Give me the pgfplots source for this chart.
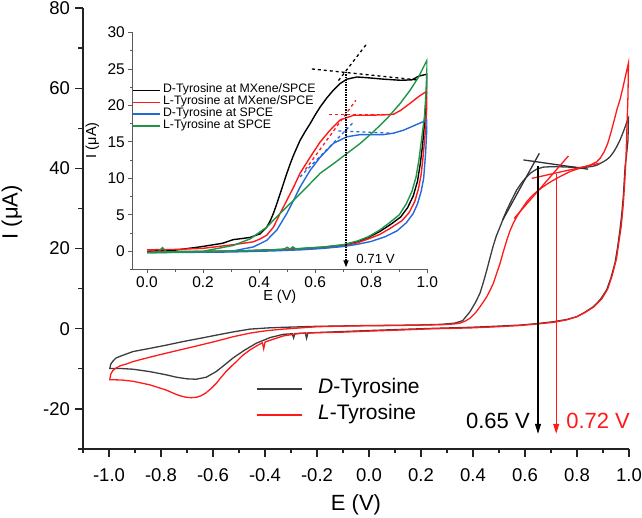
\documentclass[border=0pt]{standalone}
\usepackage{fontspec}
\setmainfont{Liberation Sans}
\usepackage{pgfplots}
\pgfplotsset{compat=1.18}
\usetikzlibrary{arrows.meta}

\definecolor{dgray}{RGB}{60,60,60}
\definecolor{lred}{RGB}{255,25,25}
\definecolor{iblue}{RGB}{35,105,220}
\definecolor{igreen}{RGB}{30,150,70}
\definecolor{axisgray}{RGB}{35,35,35}

\begin{document}
\begin{tikzpicture}[x=1pt,y=1pt]
\useasboundingbox (0,0) rectangle (642,518);

% ---------------- main cyclic voltammograms ----------------
\begin{axis}[
  at={(83pt,69pt)}, anchor=south west,
  scale only axis, width=546pt, height=441pt,
  xmin=-1.1, xmax=1.0, ymin=-30, ymax=80,
  axis x line*=bottom, axis y line*=left,
  axis line style={line width=1.4pt, color=axisgray, -},
  tick style={line width=1.2pt, color=axisgray},
  tick align=outside,
  major tick length=8pt, minor tick length=4.5pt,
  xtick={-1,-0.8,-0.6,-0.4,-0.2,0,0.2,0.4,0.6,0.8,1},
  minor xtick={-1.1,-0.9,-0.7,-0.5,-0.3,-0.1,0.1,0.3,0.5,0.7,0.9},
  ytick={-20,0,20,40,60,80},
  minor ytick={-30,-10,10,30,50,70},
  /pgf/number format/assume math mode=true,
  xticklabel style={yshift=-8pt, /pgf/number format/.cd, fixed, fixed zerofill, precision=1},
  yticklabel style={xshift=-1.5pt},
  ticklabel style={font=\fontsize{18.5}{20}\selectfont},
  xlabel={E (V)}, ylabel={I (μA)},
  label style={font=\fontsize{22}{24}\selectfont},
  xlabel style={at={(axis description cs:0.5,-0.126)}, anchor=center},
  ylabel style={at={(axis description cs:-0.13,0.537)}, anchor=center},
  legend style={at={(axis description cs:0.318,0.166)}, anchor=north west,
    draw=none, fill=none, inner sep=0pt, row sep=0pt,
    font=\fontsize{21}{24}\selectfont,
    nodes={inner sep=3pt, text height=15pt, text depth=5pt},
    /tikz/every odd column/.append style={column sep=12pt}},
  legend cell align=left,
  legend image code/.code={\draw[#1] (0pt,0pt) -- (45pt,0pt);},
]
% D-Tyrosine, one full cycle starting at 0 V
\addplot[dgray, line width=1.3pt] coordinates {
(0.00,0.8) (0.10,0.85) (0.20,0.95) (0.28,1.1) (0.33,1.4) (0.36,2.0) (0.388,4.2)
(0.41,6.6) (0.427,8.9) (0.44,11.6) (0.453,14.6) (0.465,17.6) (0.477,20.5)
(0.49,23.2) (0.504,25.4) (0.517,27.6) (0.53,29.6) (0.55,32.3) (0.568,34.6)
(0.588,36.5) (0.607,37.9) (0.625,39.0) (0.645,39.8) (0.67,40.3) (0.696,40.4)
(0.73,40.4) (0.773,40.3) (0.81,40.2) (0.837,40.3) (0.86,40.5) (0.877,40.8)
(0.90,41.6) (0.915,42.2) (0.927,42.9) (0.94,44.0) (0.952,45.3) (0.965,47.0)
(0.975,48.6) (0.985,50.3) (0.995,52.2) (0.998,52.6)
(0.996,47) (0.99,43) (0.985,40.5) (0.978,32.9) (0.972,28.5) (0.965,24.6)
(0.956,20.3) (0.946,16.4) (0.93,12.6) (0.914,9.7) (0.89,7.3) (0.863,5.5)
(0.83,4.1) (0.799,3.0) (0.76,2.3) (0.709,1.75) (0.65,1.3) (0.58,0.9)
(0.48,0.6) (0.388,0.35) (0.25,0.1) (0.131,-0.15) (0.0,-0.45) (-0.1,-0.7)
(-0.2,-0.95) (-0.235,-1.05) (-0.24,-2.4) (-0.245,-1.08) (-0.265,-1.15)
(-0.285,-1.2) (-0.29,-2.3) (-0.295,-1.25) (-0.33,-1.4) (-0.38,-2.2)
(-0.433,-3.6) (-0.48,-5.4) (-0.523,-7.3) (-0.555,-9.0) (-0.588,-10.7)
(-0.626,-12.1) (-0.665,-12.6) (-0.70,-12.5) (-0.74,-12.1) (-0.78,-11.5)
(-0.843,-10.7) (-0.908,-10.1) (-0.96,-9.9) (-0.997,-9.9)
(-0.993,-8.8) (-0.985,-8.1) (-0.973,-7.3) (-0.95,-6.7) (-0.933,-6.3)
(-0.908,-5.7) (-0.843,-4.9) (-0.78,-4.1) (-0.715,-3.2) (-0.65,-2.4)
(-0.587,-1.6) (-0.523,-0.8) (-0.458,-0.1) (-0.39,0.2) (-0.33,0.35)
(-0.2,0.6) (-0.1,0.7) (0.0,0.8)
};
\addlegendentry{\textit{D}-Tyrosine}
% L-Tyrosine, one full cycle starting at 0 V
\addplot[lred, line width=1.3pt] coordinates {
(0.0,0.75) (0.1,0.8) (0.2,0.9) (0.28,1.0) (0.33,1.2) (0.35,1.4) (0.37,1.9)
(0.388,2.6) (0.41,4.0) (0.427,5.5) (0.44,6.7) (0.453,8.0) (0.465,9.5)
(0.478,11.3) (0.49,13.6) (0.504,16.3) (0.517,19.3) (0.53,22.1) (0.542,24.4)
(0.555,26.3) (0.568,27.9) (0.581,29.2) (0.594,30.5) (0.607,31.7) (0.625,33.0)
(0.645,34.2) (0.665,35.2) (0.683,36.0) (0.70,36.7) (0.722,37.5) (0.745,38.3)
(0.773,39.2) (0.80,39.8) (0.824,40.3) (0.85,40.8) (0.875,41.6) (0.89,42.6)
(0.905,44.2) (0.918,46.2) (0.93,48.8) (0.945,52.5) (0.955,55) (0.965,57.0)
(0.975,59.7) (0.985,62.6) (0.993,64.9) (0.998,66.3)
(0.996,58) (0.992,50) (0.988,42) (0.984,37) (0.978,31) (0.97,25.5)
(0.962,22) (0.952,17.5) (0.935,13.2) (0.918,9.9) (0.895,7.4) (0.866,5.5)
(0.83,4.0) (0.8,3.0) (0.76,2.2) (0.71,1.6) (0.65,1.2) (0.58,0.8) (0.48,0.45)
(0.39,0.2) (0.25,0.0) (0.13,-0.3) (0.0,-0.6) (-0.1,-0.85) (-0.2,-1.0)
(-0.265,-1.15) (-0.33,-1.8) (-0.395,-3.2) (-0.40,-3.35) (-0.405,-5.0)
(-0.41,-3.5) (-0.43,-4.2) (-0.458,-5.3) (-0.485,-6.6) (-0.51,-8.2)
(-0.53,-9.4) (-0.55,-10.7) (-0.57,-12.2) (-0.587,-13.6) (-0.607,-14.9)
(-0.627,-16.0) (-0.645,-16.7) (-0.664,-17.1) (-0.685,-17.2) (-0.703,-17.1)
(-0.722,-16.8) (-0.741,-16.4) (-0.78,-15.3) (-0.843,-14.0) (-0.908,-13.1)
(-0.95,-12.8) (-0.997,-12.7)
(-0.993,-11.3) (-0.985,-10.4) (-0.973,-9.8) (-0.955,-9.2) (-0.933,-8.8)
(-0.908,-8.2) (-0.843,-7.1) (-0.78,-6.1) (-0.715,-5.1) (-0.65,-4.1)
(-0.587,-3.1) (-0.523,-2.0) (-0.458,-1.1) (-0.396,-0.5) (-0.33,-0.1)
(-0.2,0.5) (-0.1,0.65) (0.0,0.75)
};
\addlegendentry{\textit{L}-Tyrosine}
% tangent construction for the onset potentials
\addplot[dgray!80!black, line width=1.3pt, forget plot] coordinates {(0.514,27.1) (0.655,43.75)};
\addplot[dgray!80!black, line width=1.3pt, forget plot] coordinates {(0.594,42.1) (0.843,39.8)};
\addplot[lred, line width=1.3pt, forget plot] coordinates {(0.558,27.5) (0.767,43.1)};
\addplot[lred, line width=1.3pt, forget plot] coordinates {(0.626,37.5) (0.888,41.3)};
% onset arrows
\addplot[black, line width=1.1pt, -{Triangle[length=10pt,width=6pt]}, forget plot]
  coordinates {(0.65,40.5) (0.65,-26.2)};
\addplot[lred, line width=1.1pt, -{Triangle[length=10pt,width=6pt]}, forget plot]
  coordinates {(0.72,38.6) (0.72,-26.2)};
\node[anchor=base east, font=\fontsize{22}{24}\selectfont, black, inner sep=0pt]
  at (axis cs:0.619,-24.8) {0.65 V};
\node[anchor=base west, font=\fontsize{22}{24}\selectfont, lred, inner sep=0pt]
  at (axis cs:0.758,-24.8) {0.72 V};
\end{axis}

% ---------------- inset: anodic scans ----------------
\begin{axis}[
  at={(132.3pt,248.5pt)}, anchor=south west,
  scale only axis, width=295pt, height=237pt,
  xmin=-0.0525, xmax=1.0, ymin=-2.5, ymax=30,
  axis x line*=bottom, axis y line*=left,
  axis line style={line width=1pt, color=axisgray!75, -},
  tick style={line width=0.9pt, color=axisgray!75},
  tick align=outside,
  major tick length=4pt, minor tick length=2.5pt,
  xtick={0,0.2,0.4,0.6,0.8,1},
  minor xtick={0.1,0.3,0.5,0.7,0.9},
  ytick={0,5,10,15,20,25,30},
  minor ytick={-2.5,2.5,7.5,12.5,17.5,22.5,27.5},
  /pgf/number format/assume math mode=true,
  xticklabel style={/pgf/number format/.cd, fixed, fixed zerofill, precision=1},
  ticklabel style={font=\fontsize{15.5}{17}\selectfont},
  xlabel={E (V)}, ylabel={I (μA)},
  label style={font=\fontsize{14.5}{16}\selectfont},
  xlabel style={at={(axis description cs:0.5,-0.115)}, anchor=center},
  ylabel style={at={(axis description cs:-0.135,0.545)}, anchor=center},
  legend style={at={(axis description cs:-0.001,0.782)}, anchor=north west,
    draw=none, fill=none, inner sep=0pt, row sep=0pt,
    font=\fontsize{12.3}{14}\selectfont,
    nodes={inner sep=1pt, text height=7.5pt, text depth=2.4pt},
    /tikz/every odd column/.append style={column sep=1.5pt}},
  legend cell align=left,
  legend image code/.code={\draw[#1] (0pt,0pt) -- (27pt,0pt);},
]
\addplot[black, line width=1.4pt] coordinates {
(0.0,0.0) (0.1,0.15) (0.189,0.6) (0.225,0.82) (0.27,1.1) (0.308,1.6) (0.34,1.75)
(0.368,1.9) (0.404,2.4) (0.427,3.3) (0.44,4.2) (0.451,5.2) (0.463,6.5)
(0.475,7.9) (0.487,9.3) (0.499,10.7) (0.511,12.0) (0.523,13.2) (0.546,15.2)
(0.564,16.4) (0.582,17.5) (0.60,18.7) (0.618,19.8) (0.641,21.0) (0.665,22.1)
(0.689,23.0) (0.713,23.6) (0.749,23.9) (0.785,23.8) (0.844,23.6) (0.904,23.45)
(0.945,23.5) (0.969,24.0) (1.0,24.3)
(0.995,20.5) (0.99,17.5) (0.983,14.5) (0.975,12) (0.965,9.6) (0.95,7.6)
(0.93,6.0) (0.905,4.7) (0.87,3.7) (0.83,2.7) (0.79,1.9) (0.75,1.3) (0.7,0.85)
(0.63,0.55) (0.55,0.35) (0.45,0.2) (0.3,0.0) (0.0,-0.1)
};
\addlegendentry{D-Tyrosine at MXene/SPCE}
\addplot[lred, line width=1.4pt] coordinates {
(0.0,0.2) (0.1,0.25) (0.2,0.4) (0.308,0.9) (0.38,1.3) (0.404,1.7) (0.427,2.2)
(0.451,3.3) (0.475,5.2) (0.499,7.0) (0.523,8.8) (0.546,10.7) (0.582,12.9)
(0.618,15.0) (0.653,16.6) (0.689,18.0) (0.737,18.65) (0.785,18.65) (0.844,18.7)
(0.88,18.8) (0.904,19.3) (0.939,20.3) (0.969,21.2) (1.0,22.0)
(0.997,19) (0.992,16) (0.985,13) (0.978,10.5) (0.968,8.5) (0.955,6.8)
(0.935,5.3) (0.91,4.2) (0.87,3.2) (0.83,2.3) (0.79,1.7) (0.75,1.15) (0.7,0.75)
(0.63,0.45) (0.55,0.3) (0.45,0.15) (0.3,0.0) (0.0,-0.1)
};
\addlegendentry{L-Tyrosine at MXene/SPCE}
\addplot[iblue, line width=1.4pt] coordinates {
(0.0,-0.2) (0.2,-0.1) (0.308,0.05) (0.38,0.6) (0.427,1.5) (0.463,2.9)
(0.499,5.2) (0.523,7.0) (0.546,8.8) (0.582,11.1) (0.618,12.9) (0.665,14.8)
(0.713,15.7) (0.761,16.0) (0.844,16.0) (0.88,16.2) (0.915,16.6) (0.969,17.5)
(1.0,18.0)
(0.998,16.6) (0.994,13.5) (0.987,10) (0.978,8.2) (0.965,6.5) (0.95,5.2)
(0.925,3.9) (0.892,2.8) (0.85,2.0) (0.8,1.35) (0.75,0.95) (0.7,0.65)
(0.63,0.4) (0.55,0.2) (0.45,0.05) (0.3,-0.1) (0.0,-0.2)
};
\addlegendentry{D-Tyrosine at SPCE}
\addplot[igreen, line width=1.4pt] coordinates {
(0.0,-0.2) (0.04,-0.1) (0.055,0.5) (0.06,0.3) (0.07,-0.1) (0.2,0.0)
(0.308,0.8) (0.368,1.7) (0.427,3.3) (0.475,5.2) (0.523,7.0) (0.57,8.8)
(0.618,10.7) (0.665,12.0) (0.713,13.4) (0.761,14.8) (0.808,16.4) (0.856,18.2)
(0.904,20.3) (0.939,22.1) (0.969,23.9) (1.0,26.3)
(0.995,21.5) (0.99,18.5) (0.98,15.5) (0.97,12.5) (0.96,10.2) (0.945,8.2)
(0.925,6.5) (0.9,5.0) (0.868,4.0) (0.83,2.9) (0.79,2.0) (0.75,1.4) (0.7,0.9)
(0.63,0.6) (0.55,0.4) (0.53,0.35) (0.52,0.6) (0.51,0.3) (0.5,0.55) (0.49,0.3)
(0.45,0.2) (0.3,0.0) (0.15,-0.1) (0.0,-0.2)
};
\addlegendentry{L-Tyrosine at SPCE}
% dashed tangents and the onset marker
\addplot[black, line width=1.3pt, dashed, forget plot] coordinates {(0.588,25.0) (0.963,23.5)};
\addplot[black, line width=1.3pt, dashed, forget plot] coordinates {(0.683,23.4) (0.785,28.5)};
\addplot[lred, line width=1.3pt, dashed, forget plot] coordinates {(0.648,18.75) (0.88,18.75)};
\addplot[lred, line width=1.3pt, dashed, forget plot] coordinates {(0.565,11.2) (0.745,20.7)};
\addplot[iblue, line width=1.3pt, dashed, forget plot] coordinates {(0.683,16.5) (0.868,16.2)};
\addplot[iblue, line width=1.3pt, dashed, forget plot] coordinates {(0.546,10.2) (0.737,17.7)};
\addplot[black, line width=1.5pt, densely dotted, -{Triangle[length=7pt,width=5pt]}, forget plot]
  coordinates {(0.71,24.6) (0.71,-2.2)};
\node[anchor=base west, font=\fontsize{13.3}{15}\selectfont, inner sep=0pt]
  at (axis cs:0.746,-1.65) {0.71 V};
\end{axis}
\end{tikzpicture}
\end{document}
